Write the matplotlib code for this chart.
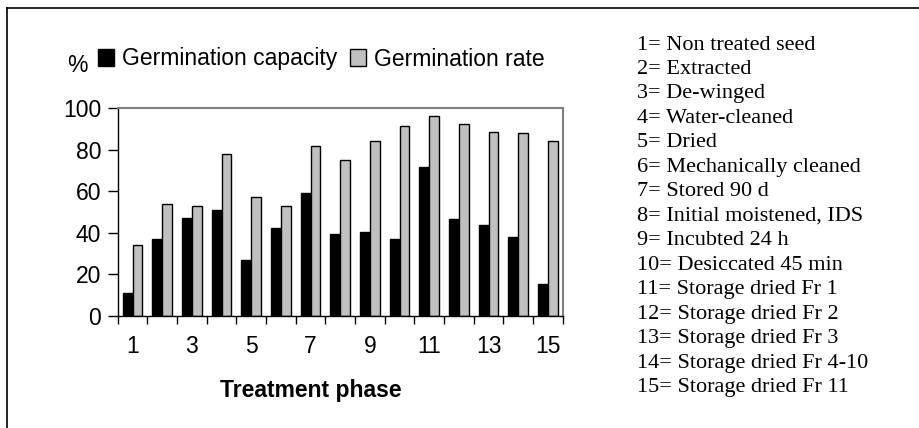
import numpy as np
import matplotlib.pyplot as plt

# Data
phases = np.arange(1, 16)
capacity = [11, 37, 47, 51, 27, 42.5, 59, 39.5, 40.5, 37, 71.5, 46.5, 43.5, 38, 15.5]
rate = [34, 54, 53, 78, 57, 53, 82, 75, 84, 91.5, 96.5, 92.5, 88.5, 88, 84]
tick_labels = ['1', '', '3', '', '5', '', '7', '', '9', '', '11', '', '13', '', '15']
phase_names = ['Non treated seed', 'Extracted', 'De-winged', 'Water-cleaned', 'Dried',
               'Mechanically cleaned', 'Stored 90 d', 'Initial moistened, IDS',
               'Incubted 24 h', 'Desiccated 45 min', 'Storage dried Fr 1',
               'Storage dried Fr 2', 'Storage dried Fr 3', 'Storage dried Fr 4-10',
               'Storage dried Fr 11']

W, H = 920, 428
fig = plt.figure(figsize=(W / 100, H / 100), dpi=100)
sans = 'Liberation Sans'
serif = 'Liberation Serif'
fs = 16.5

# outer frame (left and top only, as in the crop)
fig.add_artist(plt.Line2D([7.5 / W, 7.5 / W], [0, 1 - 7.5 / H], color='black', lw=1.2))
fig.add_artist(plt.Line2D([7.5 / W, 1], [1 - 7.5 / H, 1 - 7.5 / H], color='black', lw=1.2))

x0, x1 = 117.7, 562.7
y_top, y_bot = 108.3, 315.7
ax = fig.add_axes([x0 / W, 1 - y_bot / H, (x1 - x0) / W, (y_bot - y_top) / H])

w = 0.335
b1 = ax.bar(phases - w / 2, capacity, w, color='black', edgecolor='black', lw=1,
            label='Germination capacity')
b2 = ax.bar(phases + w / 2, rate, w, color='#c0c0c0', edgecolor='black', lw=1,
            label='Germination rate')

ax.set_xlim(0.5, 15.5)
ax.set_ylim(0, 100)
ax.set_yticks(range(0, 101, 20))
ax.set_xticks(phases)
ax.set_xticklabels(tick_labels)
ax.set_xticks(np.arange(0.5, 16, 1), minor=True)
ax.tick_params(axis='x', which='major', length=0, pad=14, labelsize=fs)
ax.tick_params(axis='x', which='minor', length=6, width=1, direction='out')
ax.tick_params(axis='y', length=7, width=1, direction='out', pad=5, labelsize=fs)
for lab in ax.get_xticklabels() + ax.get_yticklabels():
    lab.set_fontfamily(sans)
for s in ['top', 'right']:
    ax.spines[s].set_color('#808080')
    ax.spines[s].set_linewidth(1.5)
for s in ['left', 'bottom']:
    ax.spines[s].set_color('black')
    ax.spines[s].set_linewidth(1)

fig.text(311 / W, 1 - 391 / H, 'Treatment phase', fontsize=fs, fontweight='bold',
         family=sans, ha='center', va='center')
fig.text(77 / W, 1 - 66 / H, '%', fontsize=fs, family=sans, ha='center', va='center')

leg = fig.legend(handles=[b1, b2], loc='center left', bbox_to_anchor=(98 / W, 1 - 59 / H),
                 ncol=2, frameon=False, handlelength=0.7, handleheight=0.7,
                 handletextpad=0.35, columnspacing=0.55, borderaxespad=0, borderpad=0,
                 prop={'family': sans, 'size': fs})

# phase key on the right
for i, name in enumerate(phase_names):
    fig.text(637 / W, 1 - (45 + i * 24.47) / H, f'{i + 1}= {name}', fontsize=16,
             family=serif, ha='left', va='center')

fig.savefig('out.png', dpi=100)
